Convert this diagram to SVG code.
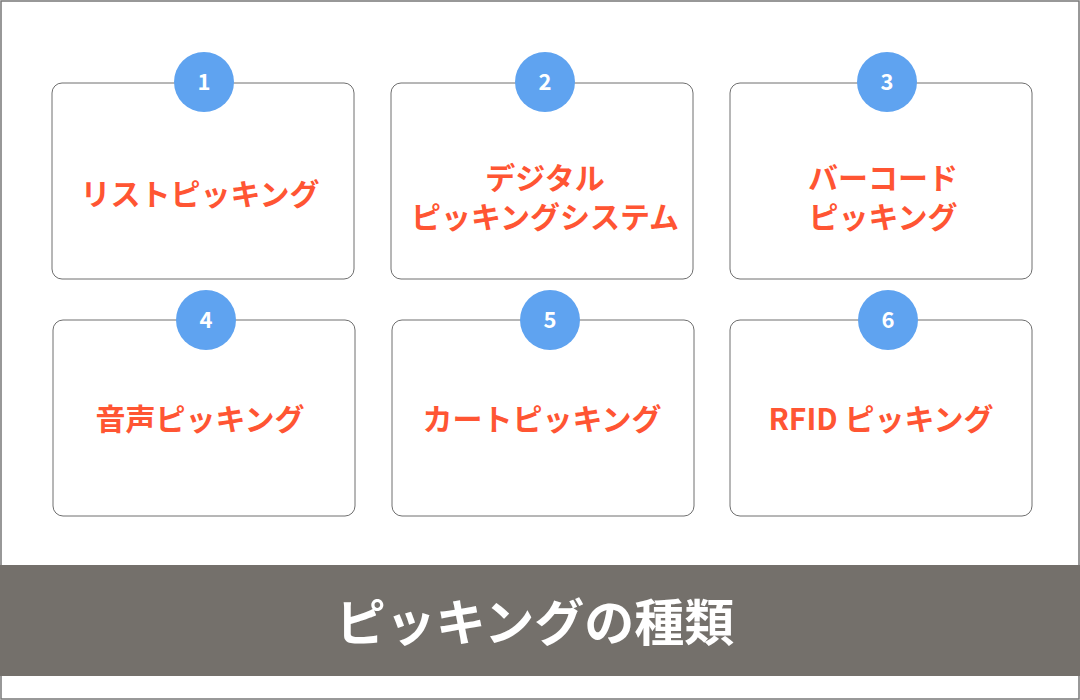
<svg xmlns="http://www.w3.org/2000/svg" width="1080" height="700" viewBox="0 0 1080 700">
<style>
.box{fill:#fff;stroke:#6e6e6e;stroke-width:1}
.c{fill:#5fa3f0}
.n{font-family:"Noto Sans CJK JP","Liberation Sans",sans-serif;font-weight:bold;font-size:22px;fill:#fff;text-anchor:middle}
.t{font-family:"Noto Sans CJK JP",sans-serif;font-weight:bold;font-size:30px;fill:#ff5533;text-anchor:middle}
</style>
<rect x="0" y="0" width="1080" height="700" fill="#fff"/>
<rect x="1" y="1" width="1078" height="698" fill="none" stroke="#777" stroke-width="1.5"/>
<rect x="0" y="565" width="1080" height="111" fill="#74706b"/>
<text x="535" y="641" font-family="Noto Sans CJK JP,sans-serif" font-weight="bold" font-size="50" fill="#fff" text-anchor="middle">ピッキングの種類</text>
<g id="n1"><rect class="box" x="52" y="83" width="302" height="196" rx="10"/><circle class="c" cx="204" cy="82" r="30"/><text class="n" x="204" y="90">1</text><text class="t" x="200" y="205">リストピッキング</text></g>
<g id="n2"><rect class="box" x="391" y="83" width="302" height="196" rx="10"/><circle class="c" cx="545" cy="82" r="30"/><text class="n" x="545" y="90">2</text><text class="t" x="545" y="189">デジタル</text><text class="t" x="545" y="228">ピッキングシステム</text></g>
<g id="n3"><rect class="box" x="730" y="83" width="302" height="196" rx="10"/><circle class="c" cx="887" cy="82" r="30"/><text class="n" x="887" y="90">3</text><text class="t" x="883" y="189">バーコード</text><text class="t" x="883" y="228">ピッキング</text></g>
<g id="n4"><rect class="box" x="53" y="320" width="302" height="196" rx="10"/><circle class="c" cx="206" cy="320" r="30"/><text class="n" x="206" y="328">4</text><text class="t" x="200" y="430">音声ピッキング</text></g>
<g id="n5"><rect class="box" x="392" y="320" width="302" height="196" rx="10"/><circle class="c" cx="550" cy="320" r="30"/><text class="n" x="550" y="328">5</text><text class="t" x="542" y="430">カートピッキング</text></g>
<g id="n6"><rect class="box" x="730" y="320" width="302" height="196" rx="10"/><circle class="c" cx="888" cy="320" r="30"/><text class="n" x="888" y="328">6</text><text class="t" x="881" y="430">RFID ピッキング</text></g>
<g id="connectors"/>
</svg>
